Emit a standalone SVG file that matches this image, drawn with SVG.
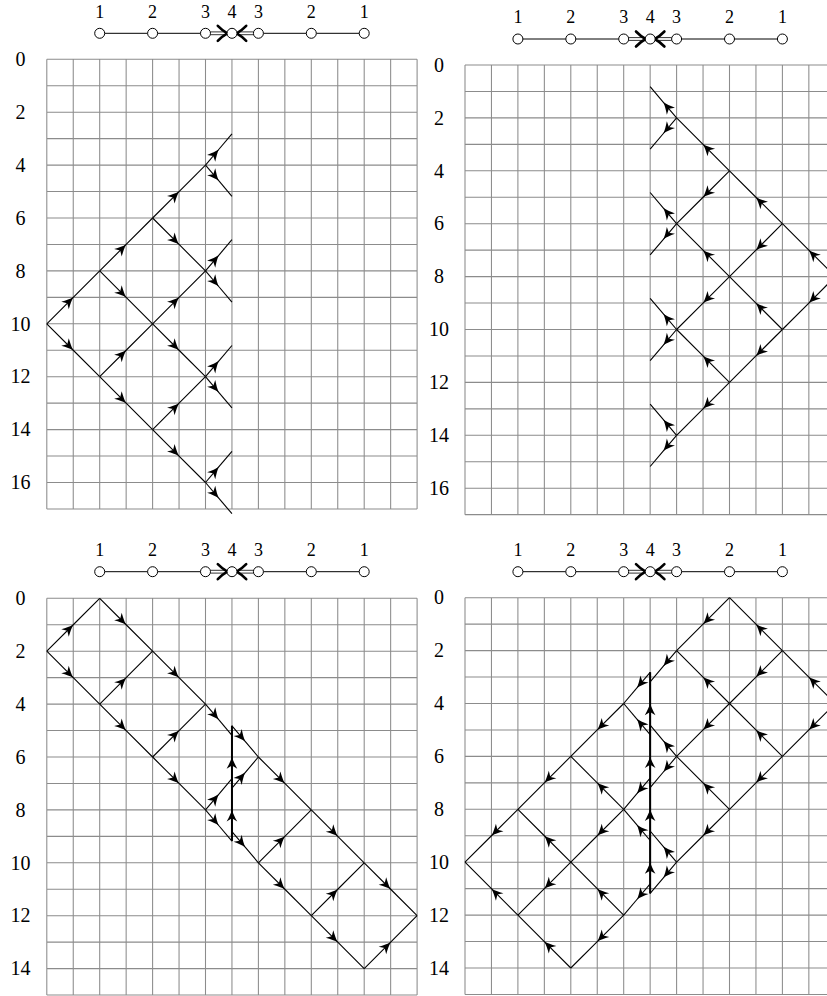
<svg xmlns="http://www.w3.org/2000/svg" xmlns:xlink="http://www.w3.org/1999/xlink" width="827" height="996" viewBox="0 0 827 996">
<style>
.g{fill:none;stroke:#8c8c8c;stroke-width:0.04}
.s{fill:none;stroke:#000;stroke-width:0.042;marker-mid:url(#ah)}
.w{fill:none;stroke:#000;stroke-width:0.075}
.lbl{font-family:"Liberation Serif","DejaVu Serif",serif;font-size:20px;text-anchor:middle;fill:#000}
.hl{font-family:"Liberation Serif","DejaVu Serif",serif;font-size:18px;text-anchor:middle;fill:#000}
.nd{fill:#fff;stroke:#000;stroke-width:1}
.e{fill:none;stroke:#000;stroke-width:1}
.db{fill:none;stroke:#000;stroke-width:0.8}
.ch{fill:none;stroke:#000;stroke-width:2.6;stroke-linecap:round;stroke-linejoin:round}
</style>
<defs>
<marker id="ah" markerUnits="strokeWidth" markerWidth="10" markerHeight="10" refX="0" refY="0" orient="auto" overflow="visible">
<path d="M0,0 C-2.8,0.8 -6.5,2.6 -10.5,4.8 L-7.6,0 L-10.5,-4.8 C-6.5,-2.6 -2.8,-0.8 0,0Z" fill="#000"/>
</marker>
<path id="grid17" class="g" d="M0 0V17M1 0V17M2 0V17M3 0V17M4 0V17M5 0V17M6 0V17M7 0V17M8 0V17M9 0V17M10 0V17M11 0V17M12 0V17M13 0V17M14 0V17M0 0H14M0 1H14M0 2H14M0 3H14M0 4H14M0 5H14M0 6H14M0 7H14M0 8H14M0 9H14M0 10H14M0 11H14M0 12H14M0 13H14M0 14H14M0 15H14M0 16H14M0 17H14"/>
<path id="grid15" class="g" d="M0 0V15M1 0V15M2 0V15M3 0V15M4 0V15M5 0V15M6 0V15M7 0V15M8 0V15M9 0V15M10 0V15M11 0V15M12 0V15M13 0V15M14 0V15M0 0H14M0 1H14M0 2H14M0 3H14M0 4H14M0 5H14M0 6H14M0 7H14M0 8H14M0 9H14M0 10H14M0 11H14M0 12H14M0 13H14M0 14H14M0 15H14"/>
</defs>

<!-- ===== Panel top-left ===== -->
<g id="panel-tl">
<g id="tl-header" transform="translate(46.8,33.3)">
<path class="e" d="M57.9 0H100.8M110.8 0H153.7M216.6 0H259.5M269.5 0H312.4"/>
<path class="db" d="M163.7 -1.4H179M163.7 1.4H179M191.4 -1.4H206.6M191.4 1.4H206.6"/>
<path class="ch" d="M171 -7.5Q175.5 -2.8 180.6 0Q175.5 2.8 171 7.5M199.4 -7.5Q194.9 -2.8 189.8 0Q194.9 2.8 199.4 7.5"/>
<g id="tl-n1"><circle class="nd" cx="52.9" cy="0" r="5"/><text class="hl" x="52.9" y="-15.6">1</text></g>
<g id="tl-n2"><circle class="nd" cx="105.8" cy="0" r="5"/><text class="hl" x="105.8" y="-15.6">2</text></g>
<g id="tl-n3"><circle class="nd" cx="158.7" cy="0" r="5"/><text class="hl" x="158.7" y="-15.6">3</text></g>
<g id="tl-n4"><circle class="nd" cx="185.2" cy="0" r="5"/><text class="hl" x="185.2" y="-15.6">4</text></g>
<g id="tl-n3b"><circle class="nd" cx="211.6" cy="0" r="5"/><text class="hl" x="211.6" y="-15.6">3</text></g>
<g id="tl-n2b"><circle class="nd" cx="264.5" cy="0" r="5"/><text class="hl" x="264.5" y="-15.6">2</text></g>
<g id="tl-n1b"><circle class="nd" cx="317.4" cy="0" r="5"/><text class="hl" x="317.4" y="-15.6">1</text></g>
</g>
<g id="tl-axis">
<text class="lbl" x="20.5" y="66">0</text><text class="lbl" x="20.5" y="118.9">2</text><text class="lbl" x="20.5" y="171.8">4</text><text class="lbl" x="20.5" y="224.7">6</text><text class="lbl" x="20.5" y="277.6">8</text><text class="lbl" x="20.5" y="330.5">10</text><text class="lbl" x="20.5" y="383.4">12</text><text class="lbl" x="20.5" y="436.3">14</text><text class="lbl" x="20.5" y="489.2">16</text>
</g>
<g transform="translate(46.8,59.3) scale(26.45)">
<use xlink:href="#grid17"/>
<g id="tl-connectors">
<path class="s" d="M0 10L1 9L2 8"/><path class="s" d="M2 8L3 7L4 6"/><path class="s" d="M4 6L5 5L6 4"/><path class="s" d="M6 4L6.5 3.41L7 2.82"/>
<path class="s" d="M2 12L3 11L4 10"/><path class="s" d="M4 10L5 9L6 8"/><path class="s" d="M6 8L6.5 7.41L7 6.82"/>
<path class="s" d="M4 14L5 13L6 12"/><path class="s" d="M6 12L6.5 11.41L7 10.82"/>
<path class="s" d="M6 16L6.5 15.41L7 14.82"/>
<path class="s" d="M0 10L1 11L2 12"/><path class="s" d="M2 12L3 13L4 14"/><path class="s" d="M4 14L5 15L6 16"/><path class="s" d="M6 16L6.5 16.59L7 17.18"/>
<path class="s" d="M2 8L3 9L4 10"/><path class="s" d="M4 10L5 11L6 12"/><path class="s" d="M6 12L6.5 12.59L7 13.18"/>
<path class="s" d="M4 6L5 7L6 8"/><path class="s" d="M6 8L6.5 8.59L7 9.18"/>
<path class="s" d="M6 4L6.5 4.59L7 5.18"/>
</g>
</g>
</g>

<!-- ===== Panel top-right ===== -->
<g id="panel-tr">
<g id="tr-header" transform="translate(465,39)">
<path class="e" d="M57.9 0H100.8M110.8 0H153.7M216.6 0H259.5M269.5 0H312.4"/>
<path class="db" d="M163.7 -1.4H179M163.7 1.4H179M191.4 -1.4H206.6M191.4 1.4H206.6"/>
<path class="ch" d="M171 -7.5Q175.5 -2.8 180.6 0Q175.5 2.8 171 7.5M199.4 -7.5Q194.9 -2.8 189.8 0Q194.9 2.8 199.4 7.5"/>
<g id="tr-n1"><circle class="nd" cx="52.9" cy="0" r="5"/><text class="hl" x="52.9" y="-15.6">1</text></g>
<g id="tr-n2"><circle class="nd" cx="105.8" cy="0" r="5"/><text class="hl" x="105.8" y="-15.6">2</text></g>
<g id="tr-n3"><circle class="nd" cx="158.7" cy="0" r="5"/><text class="hl" x="158.7" y="-15.6">3</text></g>
<g id="tr-n4"><circle class="nd" cx="185.2" cy="0" r="5"/><text class="hl" x="185.2" y="-15.6">4</text></g>
<g id="tr-n3b"><circle class="nd" cx="211.6" cy="0" r="5"/><text class="hl" x="211.6" y="-15.6">3</text></g>
<g id="tr-n2b"><circle class="nd" cx="264.5" cy="0" r="5"/><text class="hl" x="264.5" y="-15.6">2</text></g>
<g id="tr-n1b"><circle class="nd" cx="317.4" cy="0" r="5"/><text class="hl" x="317.4" y="-15.6">1</text></g>
</g>
<g id="tr-axis">
<text class="lbl" x="439" y="71.7">0</text><text class="lbl" x="439" y="124.6">2</text><text class="lbl" x="439" y="177.5">4</text><text class="lbl" x="439" y="230.4">6</text><text class="lbl" x="439" y="283.3">8</text><text class="lbl" x="439" y="336.2">10</text><text class="lbl" x="439" y="389.1">12</text><text class="lbl" x="439" y="442">14</text><text class="lbl" x="439" y="494.9">16</text>
</g>
<g transform="translate(465,65) scale(26.45)">
<use xlink:href="#grid17"/>
<g id="tr-connectors">
<path class="s" d="M14 8L13 7L12 6"/><path class="s" d="M12 6L11 5L10 4"/><path class="s" d="M10 4L9 3L8 2"/><path class="s" d="M8 2L7.5 1.41L7 0.82"/>
<path class="s" d="M12 10L11 9L10 8"/><path class="s" d="M10 8L9 7L8 6"/><path class="s" d="M8 6L7.5 5.41L7 4.82"/>
<path class="s" d="M10 12L9 11L8 10"/><path class="s" d="M8 10L7.5 9.41L7 8.82"/>
<path class="s" d="M8 14L7.5 13.41L7 12.82"/>
<path class="s" d="M8 2L7.5 2.59L7 3.18"/>
<path class="s" d="M10 4L9 5L8 6"/><path class="s" d="M8 6L7.5 6.59L7 7.18"/>
<path class="s" d="M12 6L11 7L10 8"/><path class="s" d="M10 8L9 9L8 10"/><path class="s" d="M8 10L7.5 10.59L7 11.18"/>
<path class="s" d="M14 8L13 9L12 10"/><path class="s" d="M12 10L11 11L10 12"/><path class="s" d="M10 12L9 13L8 14"/><path class="s" d="M8 14L7.5 14.59L7 15.18"/>
</g>
</g>
</g>

<!-- ===== Panel bottom-left ===== -->
<g id="panel-bl">
<g id="bl-header" transform="translate(46.8,571.7)">
<path class="e" d="M57.9 0H100.8M110.8 0H153.7M216.6 0H259.5M269.5 0H312.4"/>
<path class="db" d="M163.7 -1.4H179M163.7 1.4H179M191.4 -1.4H206.6M191.4 1.4H206.6"/>
<path class="ch" d="M171 -7.5Q175.5 -2.8 180.6 0Q175.5 2.8 171 7.5M199.4 -7.5Q194.9 -2.8 189.8 0Q194.9 2.8 199.4 7.5"/>
<g id="bl-n1"><circle class="nd" cx="52.9" cy="0" r="5"/><text class="hl" x="52.9" y="-15.6">1</text></g>
<g id="bl-n2"><circle class="nd" cx="105.8" cy="0" r="5"/><text class="hl" x="105.8" y="-15.6">2</text></g>
<g id="bl-n3"><circle class="nd" cx="158.7" cy="0" r="5"/><text class="hl" x="158.7" y="-15.6">3</text></g>
<g id="bl-n4"><circle class="nd" cx="185.2" cy="0" r="5"/><text class="hl" x="185.2" y="-15.6">4</text></g>
<g id="bl-n3b"><circle class="nd" cx="211.6" cy="0" r="5"/><text class="hl" x="211.6" y="-15.6">3</text></g>
<g id="bl-n2b"><circle class="nd" cx="264.5" cy="0" r="5"/><text class="hl" x="264.5" y="-15.6">2</text></g>
<g id="bl-n1b"><circle class="nd" cx="317.4" cy="0" r="5"/><text class="hl" x="317.4" y="-15.6">1</text></g>
</g>
<g id="bl-axis">
<text class="lbl" x="20.5" y="605">0</text><text class="lbl" x="20.5" y="657.9">2</text><text class="lbl" x="20.5" y="710.8">4</text><text class="lbl" x="20.5" y="763.7">6</text><text class="lbl" x="20.5" y="816.6">8</text><text class="lbl" x="20.5" y="869.5">10</text><text class="lbl" x="20.5" y="922.4">12</text><text class="lbl" x="20.5" y="975.3">14</text>
</g>
<g transform="translate(46.8,598.3) scale(26.45)">
<use xlink:href="#grid15"/>
<g id="bl-connectors">
<path class="s" d="M0 2L1 1L2 0"/><path class="s" d="M2 0L3 1L4 2"/><path class="s" d="M4 2L5 3L6 4"/><path class="s" d="M6 4L6.5 4.59L7 5.18"/>
<path class="s" d="M0 2L1 3L2 4"/><path class="s" d="M2 4L3 5L4 6"/><path class="s" d="M4 6L5 7L6 8"/><path class="s" d="M6 8L6.5 8.59L7 9.18"/>
<path class="s" d="M2 4L3 3L4 2"/><path class="s" d="M4 6L5 5L6 4"/><path class="s" d="M6 8L6.5 7.41L7 6.82"/>
<path class="s" d="M7 4.82L7.5 5.41L8 6"/><path class="s" d="M8 6L9 7L10 8"/><path class="s" d="M10 8L11 9L12 10"/><path class="s" d="M12 10L13 11L14 12"/>
<path class="s" d="M7 8.82L7.5 9.41L8 10"/><path class="s" d="M8 10L9 11L10 12"/><path class="s" d="M10 12L11 13L12 14"/>
<path class="s" d="M7 7.18L7.5 6.59L8 6"/><path class="s" d="M8 10L9 9L10 8"/><path class="s" d="M10 12L11 11L12 10"/><path class="s" d="M12 14L13 13L14 12"/>
<path class="w" d="M7 4.82V9.18"/>
<path class="s" d="M7 7.18L7 6L7 4.82"/><path class="s" d="M7 9.18L7 8L7 6.82"/>
</g>
</g>
</g>

<!-- ===== Panel bottom-right ===== -->
<g id="panel-br">
<g id="br-header" transform="translate(465,571.7)">
<path class="e" d="M57.9 0H100.8M110.8 0H153.7M216.6 0H259.5M269.5 0H312.4"/>
<path class="db" d="M163.7 -1.4H179M163.7 1.4H179M191.4 -1.4H206.6M191.4 1.4H206.6"/>
<path class="ch" d="M171 -7.5Q175.5 -2.8 180.6 0Q175.5 2.8 171 7.5M199.4 -7.5Q194.9 -2.8 189.8 0Q194.9 2.8 199.4 7.5"/>
<g id="br-n1"><circle class="nd" cx="52.9" cy="0" r="5"/><text class="hl" x="52.9" y="-15.6">1</text></g>
<g id="br-n2"><circle class="nd" cx="105.8" cy="0" r="5"/><text class="hl" x="105.8" y="-15.6">2</text></g>
<g id="br-n3"><circle class="nd" cx="158.7" cy="0" r="5"/><text class="hl" x="158.7" y="-15.6">3</text></g>
<g id="br-n4"><circle class="nd" cx="185.2" cy="0" r="5"/><text class="hl" x="185.2" y="-15.6">4</text></g>
<g id="br-n3b"><circle class="nd" cx="211.6" cy="0" r="5"/><text class="hl" x="211.6" y="-15.6">3</text></g>
<g id="br-n2b"><circle class="nd" cx="264.5" cy="0" r="5"/><text class="hl" x="264.5" y="-15.6">2</text></g>
<g id="br-n1b"><circle class="nd" cx="317.4" cy="0" r="5"/><text class="hl" x="317.4" y="-15.6">1</text></g>
</g>
<g id="br-axis">
<text class="lbl" x="439" y="604.4">0</text><text class="lbl" x="439" y="657.3">2</text><text class="lbl" x="439" y="710.2">4</text><text class="lbl" x="439" y="763.1">6</text><text class="lbl" x="439" y="816">8</text><text class="lbl" x="439" y="868.9">10</text><text class="lbl" x="439" y="921.8">12</text><text class="lbl" x="439" y="974.7">14</text>
</g>
<g transform="translate(465,597.7) scale(26.45)">
<use xlink:href="#grid15"/>
<g id="br-connectors">
<path class="s" d="M7 2.82L6.5 3.41L6 4"/><path class="s" d="M6 4L5 5L4 6"/><path class="s" d="M4 6L3 7L2 8"/><path class="s" d="M2 8L1 9L0 10"/>
<path class="s" d="M7 6.82L6.5 7.41L6 8"/><path class="s" d="M6 8L5 9L4 10"/><path class="s" d="M4 10L3 11L2 12"/>
<path class="s" d="M7 10.82L6.5 11.41L6 12"/><path class="s" d="M6 12L5 13L4 14"/>
<path class="s" d="M4 14L3 13L2 12"/><path class="s" d="M2 12L1 11L0 10"/>
<path class="s" d="M6 12L5 11L4 10"/><path class="s" d="M4 10L3 9L2 8"/>
<path class="s" d="M7 9.18L6.5 8.59L6 8"/><path class="s" d="M6 8L5 7L4 6"/>
<path class="s" d="M7 5.18L6.5 4.59L6 4"/>
<path class="s" d="M10 0L9 1L8 2"/><path class="s" d="M8 2L7.5 2.59L7 3.18"/>
<path class="s" d="M12 2L11 3L10 4"/><path class="s" d="M10 4L9 5L8 6"/><path class="s" d="M8 6L7.5 6.59L7 7.18"/>
<path class="s" d="M14 4L13 5L12 6"/><path class="s" d="M12 6L11 7L10 8"/><path class="s" d="M10 8L9 9L8 10"/><path class="s" d="M8 10L7.5 10.59L7 11.18"/>
<path class="s" d="M14 4L13 3L12 2"/><path class="s" d="M12 2L11 1L10 0"/>
<path class="s" d="M12 6L11 5L10 4"/><path class="s" d="M10 4L9 3L8 2"/>
<path class="s" d="M10 8L9 7L8 6"/><path class="s" d="M8 6L7.5 5.41L7 4.82"/>
<path class="s" d="M8 10L7.5 9.41L7 8.82"/>
<path class="w" d="M7 2.82V11.18"/>
<path class="s" d="M7 5.18L7 4L7 2.82"/><path class="s" d="M7 7.18L7 6L7 4.82"/><path class="s" d="M7 9.18L7 8L7 6.82"/><path class="s" d="M7 11.18L7 10L7 8.82"/>
</g>
</g>
</g>
</svg>
